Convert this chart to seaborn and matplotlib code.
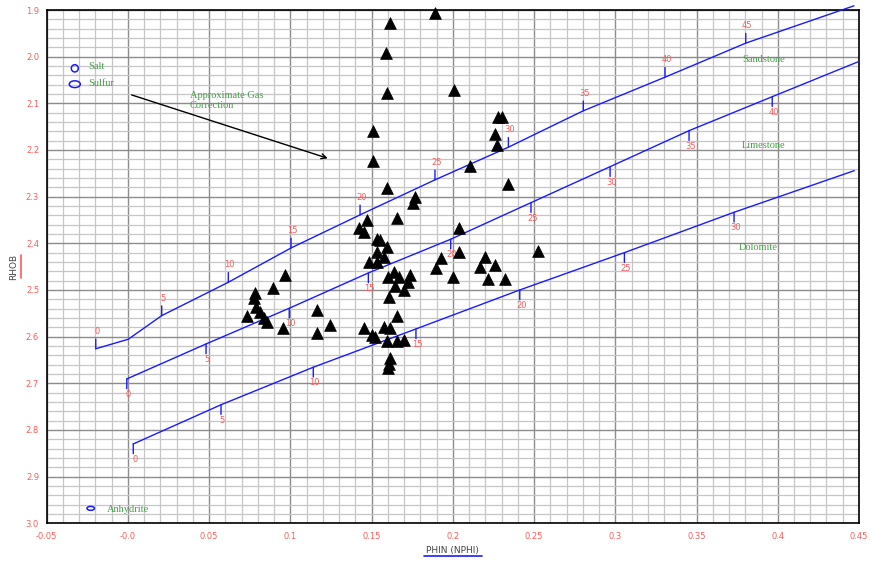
import numpy as np
import pandas as pd
import seaborn as sns
import matplotlib
matplotlib.use("Agg")
import matplotlib.pyplot as plt
from matplotlib.patches import Ellipse
from matplotlib.lines import Line2D
from matplotlib.ticker import MultipleLocator

# ---------------- data ----------------
phin = [0.1890, 0.1613, 0.1589, 0.1595, 0.2007, 0.2278, 0.2305, 0.2258, 0.2270,
        0.1511, 0.1511, 0.2104, 0.2338, 0.1592, 0.1767, 0.1753, 0.1470, 0.1658,
        0.1424, 0.1455, 0.2038, 0.1532, 0.1552, 0.1592, 0.1532, 0.1578, 0.1485,
        0.1536, 0.2040, 0.1929, 0.1898, 0.2200, 0.2258, 0.2167, 0.2526, 0.1999,
        0.2215, 0.2319, 0.1636, 0.1601, 0.1666, 0.1736, 0.1727, 0.1645, 0.1701,
        0.1610, 0.1166, 0.1246, 0.1166, 0.1658, 0.1453, 0.1504, 0.1521, 0.1576,
        0.1613, 0.1597, 0.1658, 0.1701, 0.1613, 0.1605, 0.1603, 0.0967, 0.0895,
        0.0782, 0.0776, 0.0789, 0.0735, 0.0813, 0.0838, 0.0854, 0.0955]
rhob = [1.9054, 1.9272, 1.9928, 2.0785, 2.0714, 2.1286, 2.1286, 2.1657, 2.1893,
        2.1593, 2.2235, 2.2336, 2.2735, 2.2820, 2.3013, 2.3129, 2.3500, 2.3450,
        2.3671, 2.3763, 2.3678, 2.3913, 2.3928, 2.4085, 2.4179, 2.4292, 2.4393,
        2.4393, 2.4179, 2.4320, 2.4528, 2.4299, 2.4464, 2.4513, 2.4158, 2.4727,
        2.4764, 2.4764, 2.4625, 2.4721, 2.4721, 2.4678, 2.4832, 2.4920, 2.5000,
        2.5150, 2.5428, 2.5750, 2.5932, 2.5552, 2.5820, 2.5964, 2.6013, 2.5799,
        2.5820, 2.6086, 2.6092, 2.6071, 2.6463, 2.6585, 2.6677, 2.4678, 2.4963,
        2.5070, 2.5177, 2.5357, 2.5557, 2.5471, 2.5600, 2.5685, 2.5820]

# lithology lines (vertices)
sand_x = [-0.0198, 0.0002, 0.0208, 0.0618, 0.1004, 0.1429, 0.1890, 0.2342, 0.2803, 0.3306, 0.3803, 0.4469]
sand_y = [2.626, 2.6056, 2.555, 2.4835, 2.410, 2.339, 2.264, 2.194, 2.116, 2.044, 1.971, 1.891]
lime_x = [-0.0007, 0.0481, 0.0993, 0.148, 0.1987, 0.2481, 0.2968, 0.3454, 0.3966, 0.4496]
lime_y = [2.6907, 2.6157, 2.5392, 2.4635, 2.3913, 2.3129, 2.2358, 2.1586, 2.0858, 2.0108]
dolo_x = [0.0033, 0.0573, 0.1141, 0.1773, 0.2412, 0.3056, 0.3731, 0.4471]
dolo_y = [2.830, 2.746, 2.6656, 2.5835, 2.500, 2.420, 2.3335, 2.2443]

# porosity ticks on lithology lines
sand_por = [0, 5, 10, 15, 20, 25, 30, 35, 40, 45]
sand_tx = [-0.0198, 0.0208, 0.0618, 0.1004, 0.1429, 0.1890, 0.2342, 0.2803, 0.3306, 0.3803]
sand_ty = [2.626, 2.555, 2.4835, 2.410, 2.339, 2.264, 2.194, 2.116, 2.044, 1.971]
lime_por = [0, 5, 10, 15, 20, 25, 30, 35, 40]
lime_tx = lime_x[:9]
lime_ty = lime_y[:9]
dolo_por = [0, 5, 10, 15, 20, 25, 30]
dolo_tx = dolo_x[:7]
dolo_ty = dolo_y[:7]

# mineral points
min_names = ["Salt", "Sulfur", "Anhydrite"]
min_x = [-0.0327, -0.0327, -0.0229]
min_y = [2.025, 2.059, 2.968]

xtick_vals = [-0.05, 0.0, 0.05, 0.1, 0.15, 0.2, 0.25, 0.3, 0.35, 0.4, 0.45]
xtick_labels = ["-0.05", "-0.0", "0.05", "0.1", "0.15", "0.2", "0.25", "0.3", "0.35", "0.4", "0.45"]
ytick_vals = [1.9, 2.0, 2.1, 2.2, 2.3, 2.4, 2.5, 2.6, 2.7, 2.8, 2.9, 3.0]
ytick_labels = ["1.9", "2.0", "2.1", "2.2", "2.3", "2.4", "2.5", "2.6", "2.7", "2.8", "2.9", "3.0"]

# ---------------- style ----------------
sns.set_style("white")
plt.rcParams["font.family"] = ["DejaVu Sans"]

BLUE = "#1a1aff"
RED = "#ff5a5a"
GREEN = "#44a044"

fig = plt.figure(figsize=(8.71, 5.62), dpi=100)
ax = fig.add_axes([0.0536, 0.0689, 0.9326, 0.9133])

df = pd.DataFrame({"PHIN": phin, "RHOB": rhob})

for lx, ly in [(sand_x, sand_y), (lime_x, lime_y), (dolo_x, dolo_y)]:
    sns.lineplot(x=lx, y=ly, sort=False, estimator=None, color=BLUE, lw=1.0,
                 ax=ax, clip_on=False, zorder=3)

def draw_ticks(tx, ty, por, up):
    sgn = 1 if up else -1
    for x, y, p in zip(tx, ty, por):
        ax.annotate("", xy=(x, y), xytext=(0, sgn * 7), textcoords="offset points",
                    arrowprops=dict(arrowstyle="-", color=BLUE, lw=1.0, shrinkA=0, shrinkB=0),
                    annotation_clip=False, zorder=3)
        ax.annotate(str(p), xy=(x, y), xytext=(1, sgn * (12.5 if up else 11.3)),
                    textcoords="offset points", ha="center", va="center",
                    color=RED, fontsize=6, annotation_clip=False, zorder=4)

draw_ticks(sand_tx, sand_ty, sand_por, True)
draw_ticks(lime_tx, lime_ty, lime_por, False)
draw_ticks(dolo_tx, dolo_ty, dolo_por, False)

sns.scatterplot(data=df, x="PHIN", y="RHOB", marker="^", color="black", s=72,
                edgecolor="black", linewidth=0.5, ax=ax, clip_on=False, zorder=6,
                legend=False)

# mineral markers
ell_sizes = [(0.0043, 0.0155), (0.0068, 0.0145), (0.0046, 0.0085)]
for (x, y), (w, h) in zip(zip(min_x, min_y), ell_sizes):
    ax.add_patch(Ellipse((x, y), w, h, fill=False, edgecolor=BLUE, lw=1.1, zorder=4))

serif = ["Liberation Serif", "DejaVu Serif"]
ax.text(-0.0247, 2.0215, "Salt", color=GREEN, fontsize=7.5, family=serif, va="center", ha="left")
ax.text(-0.0247, 2.057, "Sulfur", color=GREEN, fontsize=7.5, family=serif, va="center", ha="left")
ax.text(-0.0127, 2.970, "Anhydrite", color=GREEN, fontsize=7.5, family=serif, va="center", ha="left")
ax.text(0.378, 2.0056, "Sandstone", color=GREEN, fontsize=7.5, family=serif, va="center", ha="left")
ax.text(0.378, 2.1914, "Limestone", color=GREEN, fontsize=7.5, family=serif, va="center", ha="left")
ax.text(0.3762, 2.4085, "Dolomite", color=GREEN, fontsize=7.5, family=serif, va="center", ha="left")
ax.text(0.0382, 2.0939, "Approximate Gas\nCorrection", color=GREEN, fontsize=7.5, family=serif,
        va="center", ha="left", linespacing=1.25)

ax.annotate("", xy=(0.123, 2.2178), xytext=(0.0023, 2.082),
            arrowprops=dict(arrowstyle="->", color="black", lw=1.0, shrinkA=0, shrinkB=0,
                            mutation_scale=9))

# axes
ax.set_xlim(-0.05, 0.45)
ax.set_ylim(3.0, 1.9)
ax.set_xticks(xtick_vals)
ax.set_xticklabels(xtick_labels)
ax.set_yticks(ytick_vals)
ax.set_yticklabels(ytick_labels)
ax.xaxis.set_minor_locator(MultipleLocator(0.01))
ax.yaxis.set_minor_locator(MultipleLocator(0.02))
ax.tick_params(axis="x", which="major", length=5, width=1.2, color=BLUE, labelcolor=RED,
               labelsize=6, pad=1.5)
ax.tick_params(axis="y", which="major", length=2, width=1.2, color=BLUE, labelcolor=RED,
               labelsize=6, pad=3.5)
ax.tick_params(which="minor", length=0)
ax.set_axisbelow(True)
ax.grid(which="major", color="#8c8c8c", lw=1.0)
ax.grid(which="minor", color="#c6c6c6", lw=0.9)
for s in ax.spines.values():
    s.set_color("black")
    s.set_linewidth(1.2)
ax.set_xlabel("")
ax.set_ylabel("")

ax.text(0.5, -0.053, "PHIN (NPHI)", transform=ax.transAxes, ha="center", va="center",
        fontsize=6.5, color="#444444")
ax.add_line(Line2D([0.4651, 0.5359], [-0.0631, -0.0631], transform=ax.transAxes,
                   color=BLUE, lw=1.2, clip_on=False))
ax.text(-0.0403, 0.5, "RHOB", transform=ax.transAxes, ha="center", va="center",
        rotation=90, fontsize=6.5, color="#444444")
ax.add_line(Line2D([-0.032, -0.032], [0.4779, 0.5227], transform=ax.transAxes,
                   color=RED, lw=1.2, clip_on=False))

fig.savefig("out.png", dpi=100)
